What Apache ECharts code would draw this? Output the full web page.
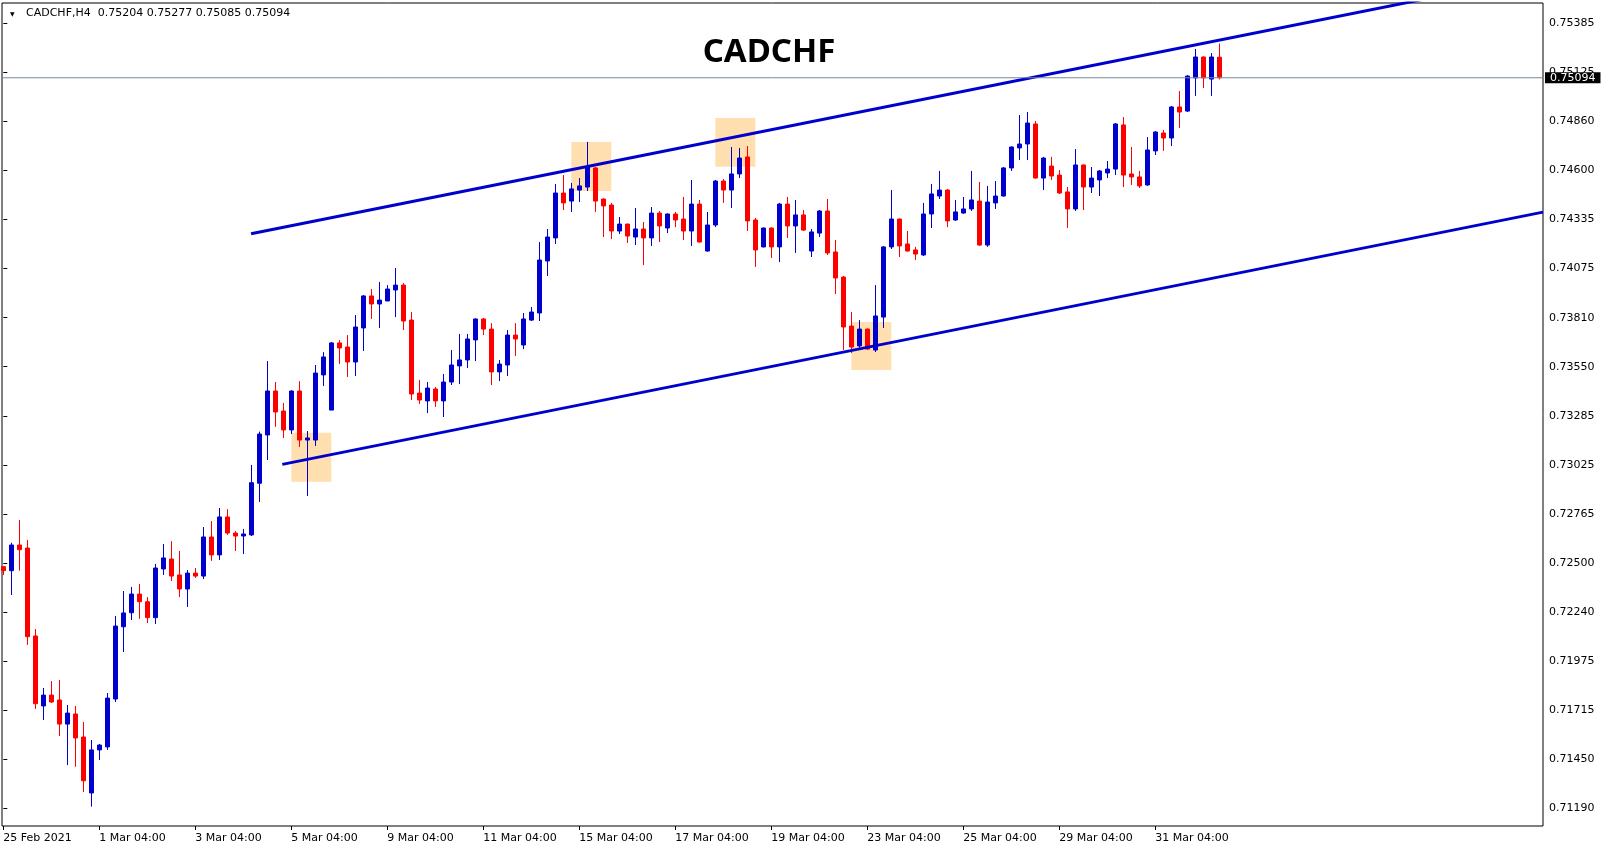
<!DOCTYPE html>
<html>
<head>
<meta charset="utf-8">
<script src="https://cdn.jsdelivr.net/npm/echarts/dist/echarts.min.js"></script>
<style>
html,body{margin:0;padding:0;background:#fff;}
#chart{width:1607px;height:850px;}
</style>
</head>
<body>
<div id="chart"></div>
<script>
// H4 bars of CADCHF, 25 Feb 2021 04:00 .. 31 Mar 2021 (index = bar number)
const open = [0.72481,0.72460,0.72597,0.72581,0.72111,0.71737,0.71795,0.71769,0.71640,0.71694,
0.71571,0.71272,0.71502,0.71518,0.71774,0.72160,0.72235,0.72335,0.72294,0.72209,
0.72469,0.72522,0.72437,0.72362,0.72447,0.72431,0.72640,0.72544,0.72747,0.72661,
0.72645,0.72651,0.72927,0.73185,0.73420,0.73313,0.73212,0.73420,0.73158,0.73158,
0.73506,0.73318,0.73677,0.73655,0.73575,0.73757,0.73928,0.73885,0.73901,0.73960,
0.73986,0.73799,0.73409,0.73367,0.73431,0.73367,0.73468,0.73554,0.73586,0.73693,
0.73805,0.73751,0.73522,0.73559,0.73719,0.73666,0.73799,0.73837,0.74115,0.74238,
0.74478,0.74435,0.74494,0.74510,0.74612,0.74446,0.74414,0.74275,0.74312,0.74243,
0.74286,0.74238,0.74371,0.74291,0.74366,0.74339,0.74275,0.74419,0.74168,0.74307,
0.74542,0.74494,0.74580,0.74671,0.74334,0.74190,0.74291,0.74190,0.74419,0.74302,
0.74361,0.74168,0.74264,0.74382,0.74163,0.74029,0.73767,0.73661,0.73751,0.73639,
0.73815,0.74190,0.74339,0.74206,0.74174,0.74147,0.74366,0.74462,0.74494,0.74334,
0.74371,0.74393,0.74435,0.74200,0.74425,0.74462,0.74612,0.74719,0.74740,0.74847,
0.74558,0.74622,0.74574,0.74484,0.74393,0.74628,0.74510,0.74548,0.74585,0.74606,
0.74842,0.74580,0.74564,0.74521,0.74703,0.74799,0.74772,0.74938,0.74916,0.75093,
0.75205,0.75087,0.75204];

const close = [0.72460,0.72597,0.72572,0.72107,0.71749,0.71795,0.71758,0.71640,0.71699,0.71566,
0.71337,0.71502,0.71528,0.71779,0.72164,0.72234,0.72335,0.72294,0.72209,0.72474,
0.72528,0.72431,0.72362,0.72447,0.72431,0.72640,0.72544,0.72747,0.72661,0.72645,
0.72656,0.72930,0.73190,0.73420,0.73308,0.73212,0.73420,0.73158,0.73169,0.73516,
0.73602,0.73677,0.73650,0.73575,0.73762,0.73928,0.73885,0.73906,0.73965,0.73986,
0.73794,0.73404,0.73372,0.73436,0.73367,0.73468,0.73559,0.73586,0.73698,0.73805,
0.73751,0.73522,0.73564,0.73719,0.73698,0.73805,0.73842,0.74120,0.74243,0.74478,
0.74425,0.74500,0.74516,0.74617,0.74435,0.74409,0.74275,0.74312,0.74248,0.74286,
0.74238,0.74371,0.74302,0.74366,0.74334,0.74275,0.74419,0.74216,0.74307,0.74542,
0.74494,0.74580,0.74665,0.74329,0.74174,0.74291,0.74190,0.74419,0.74302,0.74361,
0.74280,0.74270,0.74382,0.74158,0.74024,0.73762,0.73655,0.73751,0.73644,0.73821,
0.74190,0.74339,0.74195,0.74168,0.74152,0.74366,0.74473,0.74494,0.74329,0.74377,
0.74393,0.74441,0.74200,0.74430,0.74462,0.74612,0.74724,0.74740,0.74852,0.74558,
0.74665,0.74569,0.74478,0.74393,0.74628,0.74510,0.74558,0.74596,0.74606,0.74847,
0.74574,0.74564,0.74516,0.74708,0.74804,0.74772,0.74938,0.74911,0.75103,0.75205,
0.75093,0.75205,0.75094];

const low = [0.72437,0.72330,0.72460,0.72063,0.71721,0.71662,0.71753,0.71576,0.71421,0.71412,
0.71277,0.71199,0.71448,0.71502,0.71758,0.72025,0.72196,0.72202,0.72180,0.72175,
0.72437,0.72405,0.72319,0.72266,0.72421,0.72415,0.72512,0.72517,0.72651,0.72565,
0.72549,0.72645,0.72827,0.73051,0.73228,0.73169,0.73190,0.73121,0.72859,0.73126,
0.73447,0.73318,0.73564,0.73495,0.73500,0.73634,0.73805,0.73757,0.73901,0.73815,
0.73746,0.73372,0.73351,0.73302,0.73335,0.73281,0.73452,0.73457,0.73543,0.73580,
0.73719,0.73452,0.73473,0.73500,0.73607,0.73644,0.73794,0.73794,0.74035,0.74206,
0.74387,0.74377,0.74430,0.74489,0.74377,0.74243,0.74232,0.74259,0.74211,0.74200,
0.74093,0.74195,0.74216,0.74264,0.74296,0.74227,0.74195,0.74214,0.74165,0.74296,
0.74425,0.74398,0.74558,0.74275,0.74083,0.74187,0.74131,0.74109,0.74238,0.74158,
0.74275,0.74136,0.74243,0.74147,0.73938,0.73639,0.73623,0.73650,0.73639,0.73628,
0.73757,0.74179,0.74136,0.74165,0.74120,0.74141,0.74291,0.74446,0.74296,0.74329,
0.74368,0.74382,0.74195,0.74190,0.74393,0.74459,0.74596,0.74654,0.74654,0.74555,
0.74494,0.74548,0.74473,0.74291,0.74382,0.74387,0.74478,0.74462,0.74558,0.74574,
0.74510,0.74521,0.74505,0.74516,0.74681,0.74703,0.74729,0.74826,0.74911,0.74997,
0.75039,0.74997,0.75085];

const high = [0.72485,0.72609,0.72731,0.72624,0.72148,0.71833,0.71870,0.71876,0.71742,0.71737,
0.71651,0.71555,0.71534,0.71806,0.72218,0.72351,0.72373,0.72389,0.72319,0.72496,
0.72602,0.72618,0.72565,0.72463,0.72474,0.72693,0.72725,0.72795,0.72789,0.72672,
0.72683,0.73025,0.73203,0.73580,0.73468,0.73356,0.73424,0.73473,0.73206,0.73559,
0.73628,0.73682,0.73693,0.73719,0.73826,0.73933,0.73965,0.74003,0.73986,0.74077,
0.73997,0.73842,0.73479,0.73468,0.73441,0.73511,0.73639,0.73725,0.73725,0.73808,
0.73810,0.73783,0.73586,0.73746,0.73783,0.73837,0.73869,0.74216,0.74286,0.74526,
0.74574,0.74532,0.74558,0.74751,0.74617,0.74449,0.74425,0.74350,0.74315,0.74398,
0.74323,0.74403,0.74382,0.74369,0.74377,0.74457,0.74548,0.74441,0.74377,0.74548,
0.74553,0.74724,0.74719,0.74729,0.74345,0.74294,0.74294,0.74425,0.74457,0.74441,
0.74387,0.74286,0.74387,0.74446,0.74227,0.74035,0.73842,0.73799,0.73754,0.73986,
0.74195,0.74494,0.74342,0.74275,0.74190,0.74425,0.74526,0.74596,0.74500,0.74441,
0.74457,0.74596,0.74537,0.74516,0.74542,0.74617,0.74727,0.74895,0.74911,0.74863,
0.74671,0.74671,0.74601,0.74510,0.74713,0.74631,0.74617,0.74601,0.74649,0.74852,
0.74884,0.74724,0.74596,0.74777,0.74809,0.74815,0.74943,0.75023,0.75108,0.75248,
0.75208,0.75226,0.75277];

// time axis labels (bar index where each label sits)
const timeTickIndex = [0,12,24,36,48,60,72,84,96,108,120,132,144];
const timeTickLabels = ['25 Feb 2021','1 Mar 04:00','3 Mar 04:00','5 Mar 04:00','9 Mar 04:00','11 Mar 04:00',
  '15 Mar 04:00','17 Mar 04:00','19 Mar 04:00','23 Mar 04:00','25 Mar 04:00','29 Mar 04:00','31 Mar 04:00'];

// price scale labels (bottom to top)
const priceTickLabels = ['0.71190','0.71450','0.71715','0.71975','0.72240','0.72500','0.72765','0.73025',
  '0.73285','0.73550','0.73810','0.74075','0.74335','0.74600','0.74860','0.75125','0.75385'];

// channel lines: [bar index, price]
const upperChannel = [[30.97, 0.74260], [192.46, 0.75641]];
const lowerChannel = [[34.875, 0.73028], [192.46, 0.74376]];

// highlighted zones: [fromBar, toBar, topPrice, bottomPrice]
const zones = [[36, 41, 0.73197, 0.72935], [71, 76, 0.74751, 0.74489], [89, 94, 0.74879, 0.74619], [106, 111, 0.73789, 0.73532]];

const symbolName = 'CADCHF';
const infoLine = 'CADCHF,H4  0.75204 0.75277 0.75085 0.75094';

const BLUE = '#0000CC', RED = '#FF0000';
const FONT = 'DejaVu Sans';
const X_MIN = -0.1625, X_MAX = 192.4625;

const candleData = open.map((o, i) => [i, o, close[i], low[i], high[i]]);
const lastClose = close[close.length - 1];
const bidLine = [[X_MIN, lastClose], [X_MAX, lastClose]];

const pFirst = parseFloat(priceTickLabels[0]);
const pLast = parseFloat(priceTickLabels[priceTickLabels.length - 1]);
const pStep = (pLast - pFirst) / (priceTickLabels.length - 1);
const priceTickValues = priceTickLabels.map((_, k) => pFirst + k * pStep);

const chart = echarts.init(document.getElementById('chart'), null, {renderer: 'canvas'});
chart.setOption({
  animation: false,
  backgroundColor: '#fff',
  title: [
    {text: '▼', left: 5, top: 6, textStyle: {fontSize: 6, color: '#000', fontWeight: 'normal', fontFamily: FONT}},
    {text: infoLine, left: 21, top: 3, textStyle: {fontSize: 11, color: '#000', fontWeight: 'normal', fontFamily: FONT}},
    {text: symbolName, left: 764, top: 31, textAlign: 'center', textStyle: {fontSize: 33, color: '#000', fontWeight: 'bold', fontFamily: 'Noto Sans'}}
  ],
  grid: {left: 2, top: 3, right: 64, bottom: 24, show: true, borderColor: '#000', borderWidth: 1, backgroundColor: '#fff'},
  xAxis: {
    type: 'value', min: X_MIN, max: X_MAX,
    axisLine: {show: false},
    splitLine: {show: false},
    axisTick: {show: true, customValues: timeTickIndex, length: 4, lineStyle: {color: '#000'}},
    axisLabel: {
      show: true, customValues: timeTickIndex, align: 'left', margin: 7,
      color: '#000', fontSize: 11, fontFamily: FONT,
      formatter: v => timeTickLabels[timeTickIndex.indexOf(Math.round(v))] || ''
    }
  },
  yAxis: {
    type: 'value', position: 'right', scale: true,
    min: 0.710954, max: 0.754935,
    axisLine: {show: false},
    splitLine: {show: false},
    axisTick: {show: true, customValues: priceTickValues, length: 4, lineStyle: {color: '#000'}},
    axisLabel: {
      show: true, customValues: priceTickValues, margin: 6,
      color: '#000', fontSize: 11, fontFamily: FONT, verticalAlign: 'middle',
      formatter: v => priceTickLabels[Math.round((v - pFirst) / pStep)] || ''
    }
  },
  series: [
    {
      type: 'line', name: 'zones', data: [], z: 1, silent: true,
      markArea: {
        silent: true,
        itemStyle: {color: '#FFDFB0', opacity: 1},
        data: zones.map(z => [{xAxis: z[0], yAxis: z[2]}, {xAxis: z[1], yAxis: z[3]}])
      }
    },
    {
      type: 'candlestick', name: symbolName, data: candleData, z: 3,
      barWidth: 4,
      itemStyle: {color: BLUE, color0: RED, borderColor: BLUE, borderColor0: RED, borderWidth: 1}
    },
    {type: 'line', name: 'upper', data: upperChannel, symbol: 'none', z: 4, clip: true,
      lineStyle: {color: BLUE, width: 3}},
    {type: 'line', name: 'lower', data: lowerChannel, symbol: 'none', z: 4, clip: true,
      lineStyle: {color: BLUE, width: 3}},
    {
      type: 'line', name: 'bid', data: bidLine, symbol: 'none', z: 6, silent: true, clip: false,
      lineStyle: {color: '#778899', width: 1},
      endLabel: {
        show: true, distance: 2, formatter: () => lastClose.toFixed(5),
        backgroundColor: '#000', color: '#fff', padding: [0, 5, 0, 5], lineHeight: 11,
        fontSize: 11, fontFamily: FONT
      }
    }
  ]
});
</script>
</body>
</html>
